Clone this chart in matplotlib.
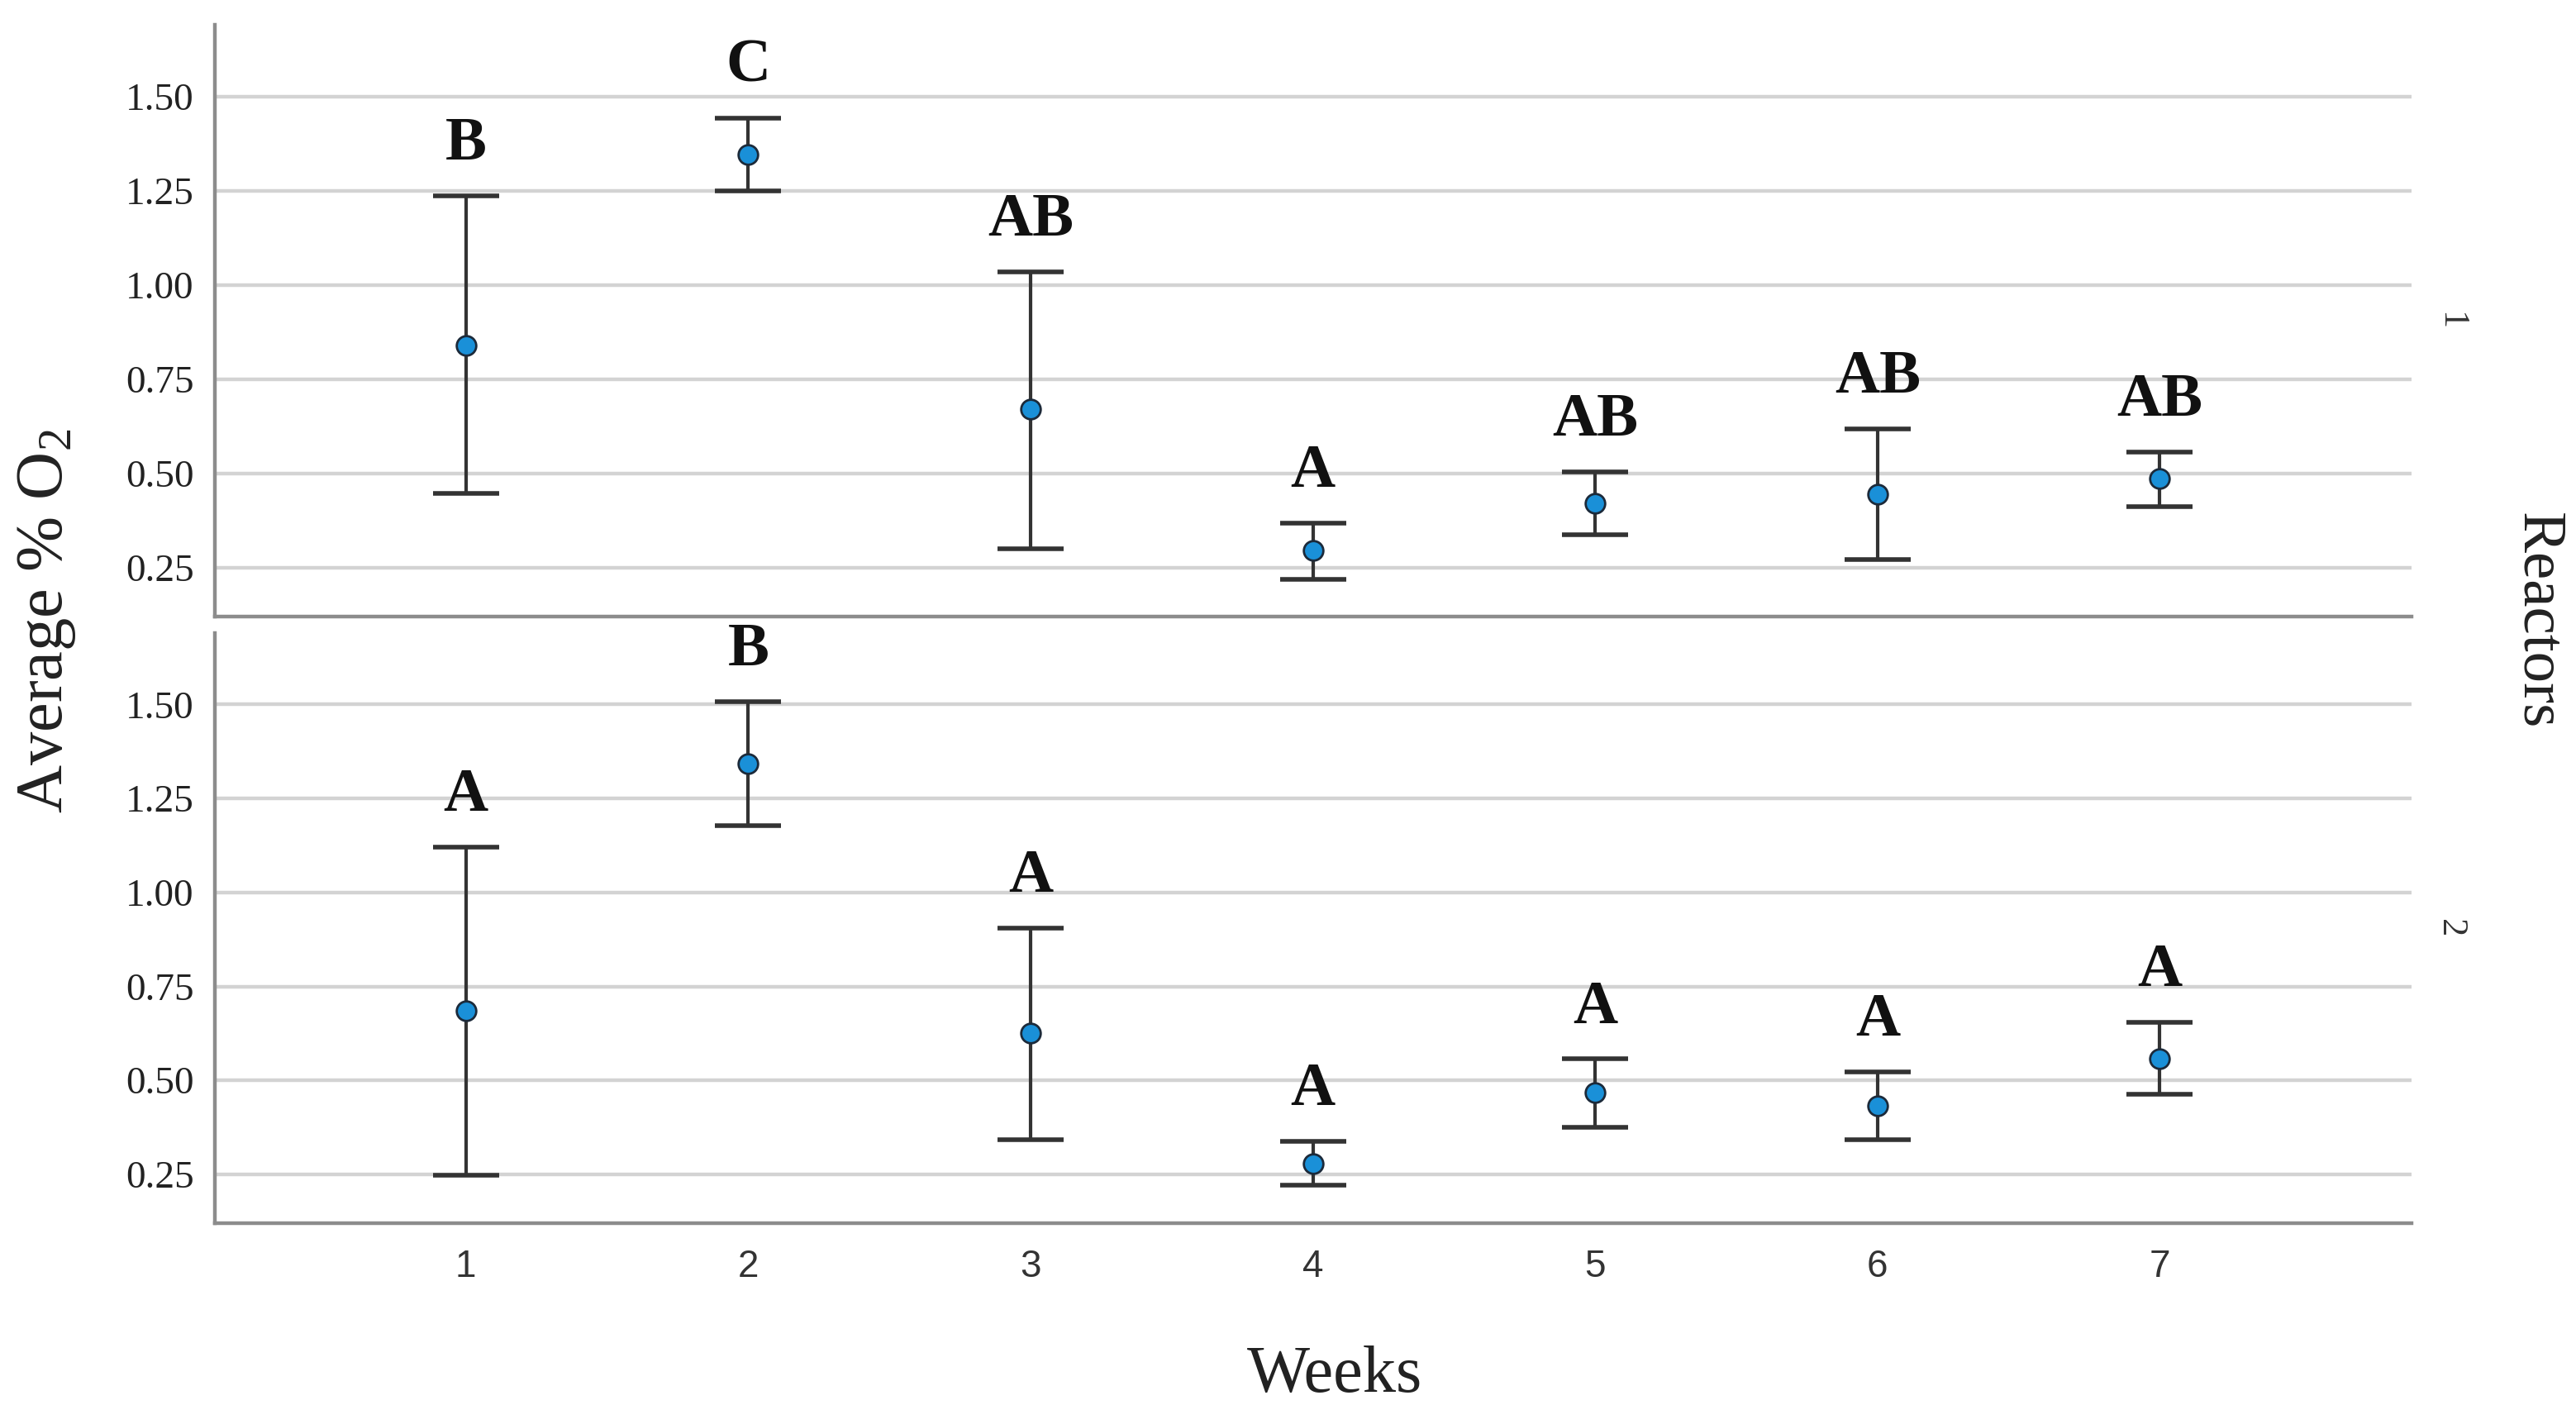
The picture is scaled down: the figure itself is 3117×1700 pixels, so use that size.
import numpy as np
import matplotlib
matplotlib.use("Agg")
import matplotlib.pyplot as plt

# --------------------------
# data
# --------------------------
weeks = [1, 2, 3, 4, 5, 6, 7]

r1_mean = [0.84, 1.345, 0.67, 0.295, 0.42, 0.445, 0.487]
r1_upper = [1.237, 1.443, 1.035, 0.368, 0.504, 0.618, 0.557]
r1_lower = [0.447, 1.25, 0.30, 0.219, 0.338, 0.272, 0.412]
r1_letters = ["B", "C", "AB", "A", "AB", "AB", "AB"]

r2_mean = [0.686, 1.342, 0.625, 0.278, 0.467, 0.432, 0.557]
r2_upper = [1.12, 1.508, 0.905, 0.338, 0.557, 0.522, 0.655]
r2_lower = [0.248, 1.177, 0.343, 0.222, 0.375, 0.343, 0.463]
r2_letters = ["A", "B", "A", "A", "A", "A", "A"]

reactor_names = ["1", "2"]
y_ticks = [0.25, 0.50, 0.75, 1.00, 1.25, 1.50]

plt.rcParams['font.family'] = ['Liberation Serif', 'DejaVu Serif']
plt.rcParams['mathtext.fontset'] = 'custom'
plt.rcParams['mathtext.rm'] = 'Liberation Serif'
plt.rcParams['mathtext.it'] = 'Liberation Serif:italic'

fig = plt.figure(figsize=(15.585, 8.5), dpi=200)
ax1 = fig.add_axes([0.0833, 0.5612, 0.8527, 0.4212])
ax2 = fig.add_axes([0.0833, 0.1294, 0.8527, 0.4200])

panels = [
    (ax1, r1_mean, r1_upper, r1_lower, r1_letters),
    (ax2, r2_mean, r2_upper, r2_lower, r2_letters),
]

for i, (ax, mean, upper, lower, letters) in enumerate(panels):
    mean = np.array(mean)
    err = [mean - np.array(lower), np.array(upper) - mean]
    ax.set_xlim(0.11, 7.89)
    ax.set_ylim(0.12, 1.69)
    ax.set_yticks(y_ticks)
    ax.set_yticklabels([f"{t:.2f}" for t in y_ticks], fontsize=17, color='#222222')
    ax.grid(axis='y', color='#d3d3d3', linewidth=1.6)
    ax.set_axisbelow(True)
    ax.tick_params(length=0, pad=9)
    for s in ['top', 'right']:
        ax.spines[s].set_visible(False)
    for s in ['left', 'bottom']:
        ax.spines[s].set_color('#8c8c8c')
        ax.spines[s].set_linewidth(1.6)

    ax.errorbar(weeks, mean, yerr=err, fmt='none', ecolor='#333333',
                elinewidth=1.5, capsize=14.5, capthick=2.0, zorder=3)
    ax.plot(weeks, mean, 'o', color='#1a90d8', markeredgecolor='#1c2a3a',
            markeredgewidth=1.0, markersize=8.5, zorder=4)

    for w, u, lab in zip(weeks, upper, letters):
        ax.annotate(lab, (w, u), xytext=(0, 10), textcoords='offset points',
                    ha='center', va='bottom', fontsize=27, fontweight='bold',
                    color='#111111')

    # reactor label on the right of each panel
    ax.text(1.018, 0.5, reactor_names[i], transform=ax.transAxes, rotation=270,
            ha='center', va='center', fontsize=16, color='#333333')

ax1.set_xticks(weeks)
ax1.set_xticklabels([])
ax2.set_xticks(weeks)
ax2.set_xticklabels([str(w) for w in weeks], fontsize=16.5, color='#333333',
                    family=['Liberation Sans', 'DejaVu Sans'])
ax2.tick_params(axis='x', pad=11)

fig.text(0.518, 0.021, "Weeks", ha='center', va='center', fontsize=29, color='#222222')
fig.text(0.018, 0.558, r"Average % O$_2$", rotation=90, ha='center', va='center',
         fontsize=29, color='#222222')
fig.text(0.985, 0.558, "Reactors", rotation=270, ha='center', va='center',
         fontsize=27, color='#222222')

fig.savefig("out.png", dpi=200, facecolor='white')
